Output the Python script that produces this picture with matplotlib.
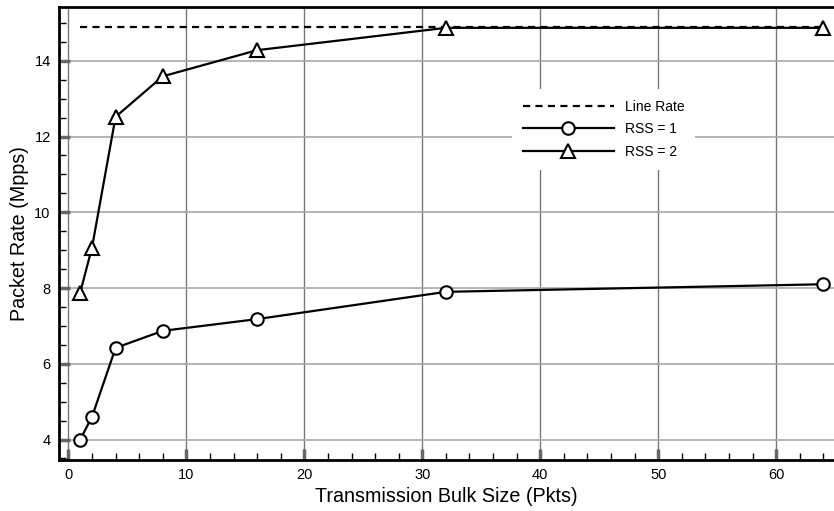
import matplotlib
matplotlib.use("Agg")
import matplotlib.pyplot as plt
from matplotlib.ticker import MultipleLocator

plt.rcParams['font.family'] = ['Liberation Sans', 'DejaVu Sans']

bulk_sizes = [1, 2, 4, 8, 16, 32, 64]
rss1 = [4.0, 4.6, 6.42, 6.87, 7.18, 7.90, 8.10]
rss2 = [7.88, 9.07, 12.52, 13.59, 14.28, 14.87, 14.87]
line_rate = 14.88

fig = plt.figure(figsize=(8.34, 5.11), dpi=100)
ax = fig.add_axes([0.0707, 0.0998, 0.9293, 0.8865])

ax.plot([bulk_sizes[0], bulk_sizes[-1]], [line_rate, line_rate], color='black',
        lw=1.6, ls=(0, (3.2, 2.4)), label='Line Rate', zorder=3)
ax.plot(bulk_sizes, rss1, color='black', lw=1.6, marker='o', markersize=9,
        markerfacecolor='white', markeredgecolor='black', markeredgewidth=1.5,
        label='RSS = 1', zorder=4)
ax.plot(bulk_sizes, rss2, color='black', lw=1.6, marker='^', markersize=10,
        markerfacecolor='white', markeredgecolor='black', markeredgewidth=1.5,
        label='RSS = 2', zorder=4)

ax.set_xlim(-0.8, 64.9)
ax.set_ylim(3.46, 15.42)

ax.xaxis.set_major_locator(MultipleLocator(10))
ax.xaxis.set_minor_locator(MultipleLocator(2))
ax.yaxis.set_major_locator(MultipleLocator(2))
ax.yaxis.set_minor_locator(MultipleLocator(0.5))

ax.grid(False)
for v in range(0, 70, 10):
    ax.axvline(v, color='#777777', lw=1.0, zorder=1)
for v in range(4, 16, 2):
    ax.axhline(v, color='#a8a8a8', lw=1.2, zorder=1)

ax.tick_params(which='major', direction='in', length=8, width=2.5,
               color='#666666', labelsize=10.5, pad=6)
ax.tick_params(which='minor', direction='in', length=5, width=1.0,
               color='black')
ax.tick_params(top=False, right=False, which='both')

for side in ('left', 'bottom', 'top'):
    ax.spines[side].set_linewidth(2.0)
ax.spines['right'].set_visible(False)

ax.set_xlabel('Transmission Bulk Size (Pkts)', fontsize=14.2, labelpad=3)
ax.set_ylabel('Packet Rate (Mpps)', fontsize=14.2, labelpad=4)

leg = ax.legend(loc='center', bbox_to_anchor=(0.703, 0.73), frameon=True,
                fontsize=10, handlelength=6.5, handletextpad=0.8,
                labelspacing=0.6, borderpad=0.8)
leg.get_frame().set_facecolor('white')
leg.get_frame().set_edgecolor('none')
leg.get_frame().set_alpha(1.0)
leg.set_zorder(2)

fig.savefig('out.png', dpi=100)
